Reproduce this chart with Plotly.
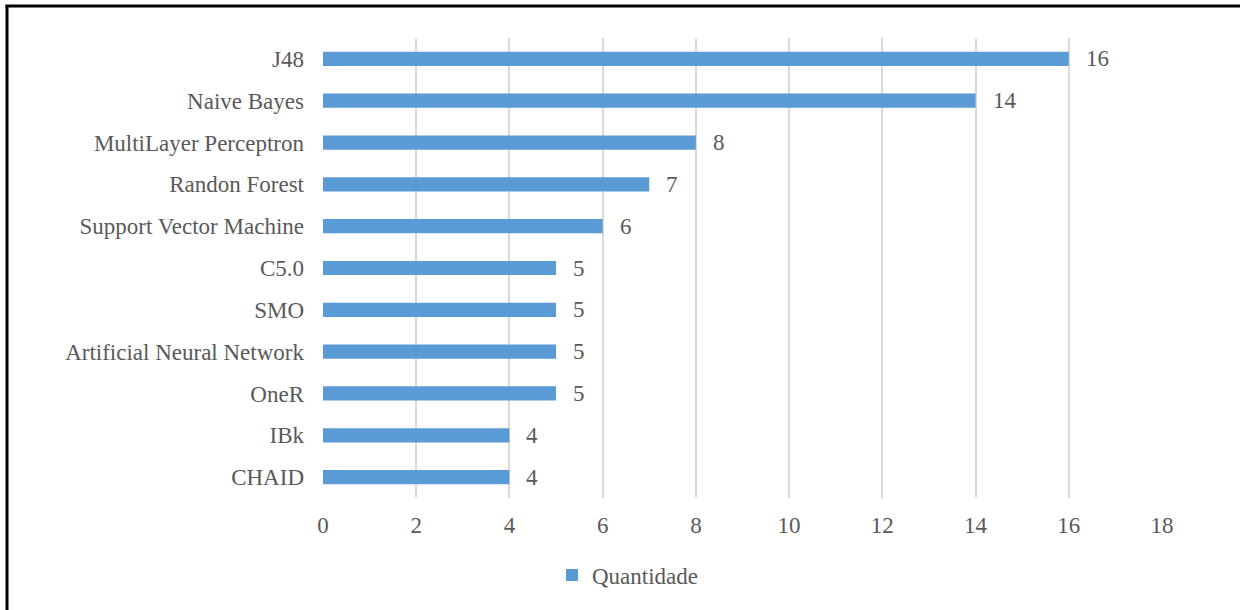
import plotly.graph_objects as go

categories = ["J48", "Naive Bayes", "MultiLayer Perceptron", "Randon Forest",
              "Support Vector Machine", "C5.0", "SMO", "Artificial Neural Network",
              "OneR", "IBk", "CHAID"]
values = [16, 14, 8, 7, 6, 5, 5, 5, 5, 4, 4]
series_name = "Quantidade"
x_ticks = [0, 2, 4, 6, 8, 10, 12, 14, 16, 18]

FONT = "Liberation Serif, Times New Roman, serif"
FS = 23
TXT = "#595959"
BAR = "#5B9BD5"

W, H = 1240, 610
ML, MR, MT, MB = 323, 78, 38, 112
PW = W - ML - MR
PH = H - MT - MB

def px_x(px):
    return (px - ML) / PW

def px_y(py):
    return (H - MB - py) / PH

fig = go.Figure()
fig.add_trace(go.Bar(
    x=values, y=categories, orientation="h", name=series_name,
    marker=dict(color=BAR, line=dict(width=0)), width=0.34,
    showlegend=True,
))

for c, v in zip(categories, values):
    fig.add_annotation(x=v, y=c, text=str(v), showarrow=False, xanchor="left",
                       xshift=15, font=dict(family=FONT, size=FS, color=TXT))

fig.update_layout(
    width=W, height=H,
    margin=dict(l=ML, r=MR, t=MT, b=MB, pad=0),
    paper_bgcolor="white", plot_bgcolor="white",
    font=dict(family=FONT, size=FS, color=TXT),
    showlegend=True,
    legend=dict(orientation="h", x=px_x(552), xanchor="left", y=px_y(575), yanchor="middle",
                font=dict(family=FONT, size=FS, color=TXT), itemwidth=30,
                bgcolor="rgba(0,0,0,0)"),
    xaxis=dict(range=[0, 18], tickvals=x_ticks, showgrid=True, gridcolor="#D9D9D9",
               gridwidth=1.5, zeroline=False, showline=False, ticks="",
               ticklabelstandoff=11, tickfont=dict(family=FONT, size=FS, color=TXT)),
    yaxis=dict(categoryorder="array", categoryarray=categories, autorange="reversed",
               showgrid=False, zeroline=False, showline=False, ticks="",
               ticklabelstandoff=18, tickfont=dict(family=FONT, size=FS, color=TXT)),
    shapes=[
        dict(type="line", xref="paper", yref="paper", x0=px_x(7), x1=px_x(7),
             y0=px_y(5), y1=px_y(700), line=dict(color="black", width=3)),
        dict(type="line", xref="paper", yref="paper", x0=px_x(5.5), x1=px_x(1300),
             y0=px_y(6), y1=px_y(6), line=dict(color="black", width=3)),
    ],
)

fig.write_html("out.html")
